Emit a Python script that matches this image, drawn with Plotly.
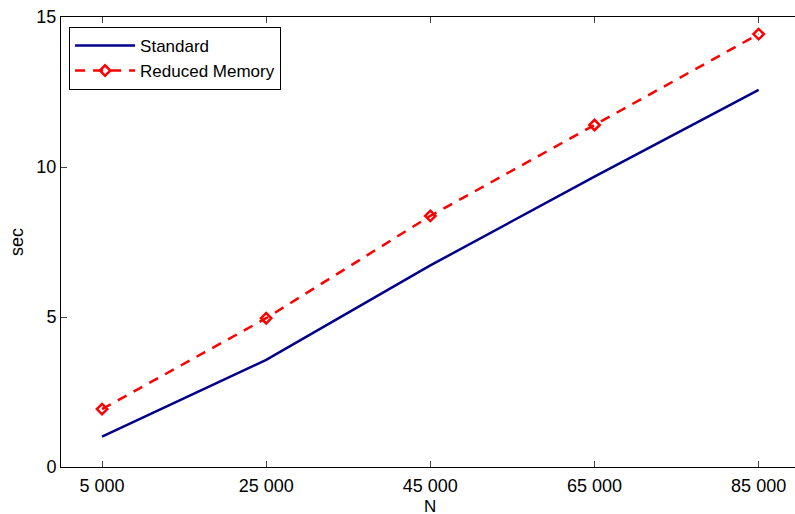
import plotly.graph_objects as go

n_values = [5000, 25000, 45000, 65000, 85000]
standard = [1.01, 3.57, 6.72, 9.68, 12.57]
reduced_memory = [1.93, 4.96, 8.37, 11.40, 14.43]
x_ticks = [5000, 25000, 45000, 65000, 85000]
x_tick_labels = ["5 000", "25 000", "45 000", "65 000", "85 000"]
y_ticks = [0, 5, 10, 15]

font = "Liberation Sans, Arial, Helvetica, sans-serif"

fig = go.Figure()
fig.add_trace(go.Scatter(
    x=n_values, y=standard, mode="lines", name="Standard",
    line=dict(color="#00008B", width=2.5),
))
fig.add_trace(go.Scatter(
    x=n_values, y=reduced_memory, mode="lines+markers", name="Reduced Memory",
    line=dict(color="#FF0000", width=2.5, dash="10px,8px"),
    marker=dict(symbol="diamond-open", size=8, color="#FF0000", line=dict(width=2.5, color="#FF0000")),
))

fig.update_layout(
    width=795, height=514,
    margin=dict(l=61, r=0, t=17, b=47),
    paper_bgcolor="white", plot_bgcolor="white",
    font=dict(family=font, size=18, color="black"),
    showlegend=True,
    legend=dict(
        x=0.011, y=0.978, xanchor="left", yanchor="top",
        bordercolor="black", borderwidth=1, bgcolor="white",
        font=dict(size=17), tracegroupgap=0, itemwidth=60,
    ),
    xaxis=dict(
        range=[0, 89430], tickvals=x_ticks, ticktext=x_tick_labels,
        showgrid=False, zeroline=False, showline=True, linecolor="black", linewidth=1,
        mirror="allticks", ticks="inside", ticklen=6, tickcolor="#444",
        ticklabelstandoff=2, automargin=False,
        tickfont=dict(size=18),
    ),
    yaxis=dict(
        range=[0, 15], tickvals=y_ticks, automargin=False,
        showgrid=False, zeroline=False, showline=True, linecolor="black", linewidth=1,
        mirror=False, ticks="inside", ticklen=6, tickcolor="#444",
        title=dict(text="sec", standoff=8, font=dict(size=18)),
        tickfont=dict(size=18),
    ),
    annotations=[dict(
        text="N", xref="paper", yref="paper", x=0.503, y=-0.087,
        xanchor="center", yanchor="middle", showarrow=False,
        font=dict(size=17, family=font, color="black"),
    )],
)

fig.write_html("out.html")
